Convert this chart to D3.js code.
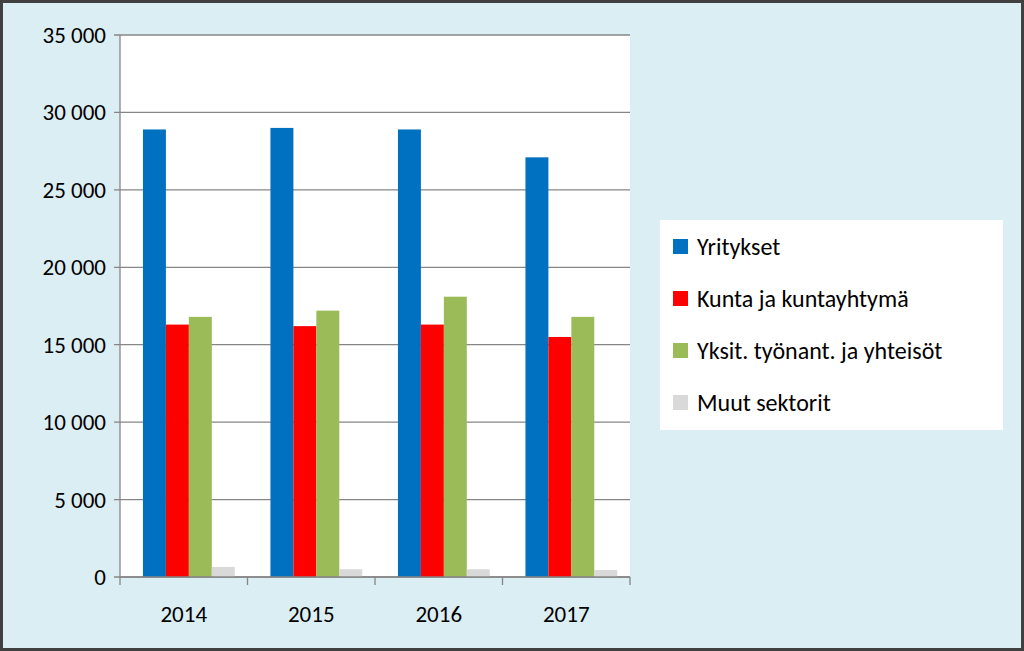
<!DOCTYPE html><html><head><meta charset="utf-8"><script src="https://d3js.org/d3.v7.min.js"></script>
<style>body{margin:0}svg{display:block}</style></head><body><script>
const years=["2014","2015","2016","2017"];
const seriesNames=["Yritykset","Kunta ja kuntayhtymä","Yksit. työnant. ja yhteisöt","Muut sektorit"];
const yritykset=[28900,29000,28900,27100];
const kunta=[16300,16200,16300,15500];
const yksit=[16800,17200,18100,16800];
const muut=[650,500,500,450];
const yTicks=[0,5000,10000,15000,20000,25000,30000,35000];
const colors=["#0070C0","#FF0000","#9BBB59","#D9D9D9"];
const series=[yritykset,kunta,yksit,muut];
const W=1024,H=651;
const svg=d3.select("body").append("svg").attr("width",W).attr("height",H).style("font-family","Carlito, Calibri, 'Open Sans', sans-serif");
svg.append("rect").attr("x",1.5).attr("y",1.5).attr("width",W-3).attr("height",H-3).attr("fill","#DAEEF3").attr("stroke","#404040").attr("stroke-width",3);
const L=120,R=630,T=35,B=577;
svg.append("rect").attr("x",L).attr("y",T).attr("width",R-L).attr("height",B-T).attr("fill","#fff");
const y=d3.scaleLinear().domain([0,35000]).range([B,T]);
const x0=d3.scaleBand().domain(years).range([L,R]);
const x1=d3.scaleBand().domain(d3.range(4)).range([x0.bandwidth()*0.18,x0.bandwidth()*0.9]);
const fmt=v=>d3.format(",")(v).replace(/,/g," ");
svg.append("g").selectAll("line").data(yTicks).join("line").attr("x1",L-6).attr("x2",R).attr("y1",d=>y(d)).attr("y2",d=>y(d)).attr("stroke","#868686").attr("stroke-width",1.3);
svg.append("g").selectAll("text").data(yTicks).join("text").attr("x",L-14).attr("y",d=>y(d)+8).attr("text-anchor","end").attr("font-size",23).attr("fill","#000").text(fmt);
const g=svg.append("g");
years.forEach((yr,i)=>series.forEach((s,j)=>{
 g.append("rect").attr("x",x0(yr)+x1(j)).attr("width",x1.bandwidth()).attr("y",y(s[i])).attr("height",B-y(s[i])).attr("fill",colors[j]);
}));
svg.append("line").attr("x1",L).attr("x2",L).attr("y1",T).attr("y2",B).attr("stroke","#868686").attr("stroke-width",1.3);
svg.append("line").attr("x1",L).attr("x2",R).attr("y1",B).attr("y2",B).attr("stroke","#868686").attr("stroke-width",1.3);
years.concat(["end"]).forEach((yr,i)=>{const xx=L+i*x0.bandwidth();svg.append("line").attr("x1",xx).attr("x2",xx).attr("y1",B).attr("y2",B+8).attr("stroke","#868686").attr("stroke-width",1.3);});
svg.append("g").selectAll("text").data(years).join("text").attr("x",d=>x0(d)+x0.bandwidth()/2).attr("y",622).attr("text-anchor","middle").attr("font-size",23).text(d=>d);
svg.append("rect").attr("x",660).attr("y",220).attr("width",343).attr("height",210).attr("fill","#fff");
seriesNames.forEach((n,j)=>{const yy=248+j*52;
 svg.append("rect").attr("x",673).attr("y",yy-9).attr("width",15).attr("height",15).attr("fill",colors[j]);
 svg.append("text").attr("x",697).attr("y",yy+7).attr("font-size",24).text(n);});
</script></body></html>
